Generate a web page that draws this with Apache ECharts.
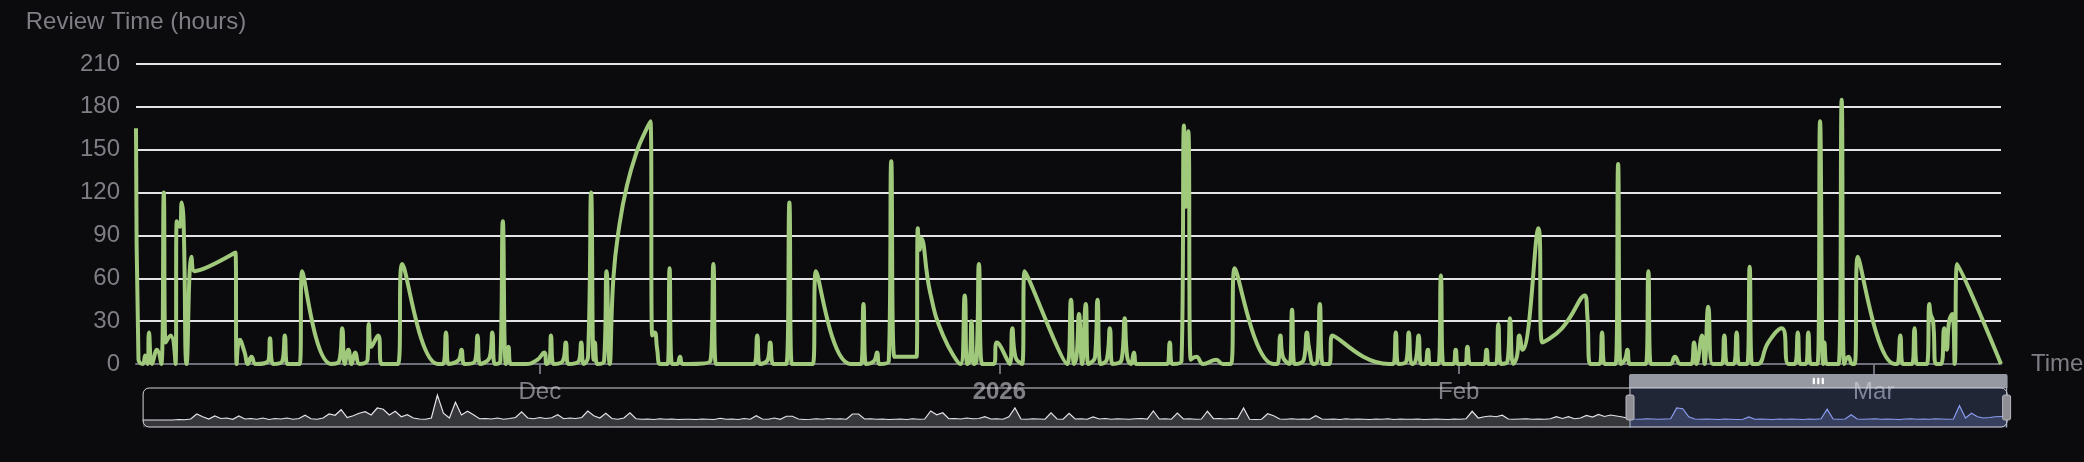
<!DOCTYPE html>
<html>
<head>
<meta charset="utf-8">
<script src="https://cdn.jsdelivr.net/npm/echarts@6/dist/echarts.min.js"></script>
<style>
html,body{margin:0;padding:0;background:#0b0b0e;}
#chart{width:2084px;height:462px;}
</style>
</head>
<body>
<div id="chart"></div>
<script>
// ---------- DATA ----------
const novTimes = ['2025-11-03 18:00','2025-11-03 22:00','2025-11-04 05:00','2025-11-04 09:00','2025-11-04 13:00','2025-11-04 15:00','2025-11-04 20:00','2025-11-05 04:00','2025-11-05 11:00','2025-11-05 15:00',
'2025-11-05 18:00','2025-11-06 02:00','2025-11-06 10:00','2025-11-06 12:00','2025-11-06 17:00','2025-11-06 20:00','2025-11-06 23:00','2025-11-07 04:00','2025-11-07 12:00','2025-11-07 17:00',
'2025-11-10 11:00','2025-11-10 13:00','2025-11-10 18:00','2025-11-11 02:00','2025-11-11 07:00','2025-11-11 13:00','2025-11-11 20:00','2025-11-12 17:00','2025-11-12 19:00','2025-11-13 00:00',
'2025-11-13 15:00','2025-11-13 19:00','2025-11-13 23:00','2025-11-14 19:00','2025-11-14 23:00','2025-11-16 22:00','2025-11-17 11:00','2025-11-17 16:00','2025-11-17 20:00','2025-11-18 02:00',
'2025-11-18 07:00','2025-11-18 13:00','2025-11-18 20:00','2025-11-19 09:00','2025-11-19 11:00','2025-11-19 15:00','2025-11-20 02:00','2025-11-20 08:00','2025-11-21 10:00','2025-11-21 17:00',
'2025-11-24 03:00','2025-11-24 11:00','2025-11-24 16:00','2025-11-24 20:00','2025-11-25 13:00','2025-11-25 17:00','2025-11-25 22:00','2025-11-26 15:00','2025-11-26 19:00','2025-11-26 23:00',
'2025-11-27 15:00','2025-11-27 19:00','2025-11-27 23:00','2025-11-28 08:00','2025-11-28 12:00','2025-11-28 17:00','2025-11-28 21:00','2025-11-29 01:00','2025-11-30 01:00','2025-11-30 20:00'];
const novHours = [165,3,0,6,0,22,0,10,0,120,
15,20,0,100,96,113,100,0,75,65,
78,0,17,8,0,5,0,3,18,0,
2,20,0,0,65,0,2,25,0,10,
0,8,0,3,28,12,20,0,0,70,
0,0,22,0,3,10,0,2,20,0,
5,22,0,2,100,0,12,0,0,3];

const decTimes = ['2025-12-01 07:00','2025-12-01 11:00','2025-12-01 16:00','2025-12-01 18:00','2025-12-01 22:00','2025-12-02 13:00','2025-12-02 18:00','2025-12-02 22:00','2025-12-03 15:00','2025-12-03 19:00',
'2025-12-03 23:00','2025-12-04 06:00','2025-12-04 11:00','2025-12-04 15:00','2025-12-04 17:00','2025-12-04 21:00','2025-12-05 08:00','2025-12-05 12:00','2025-12-05 17:00',
'2025-12-05 23:00','2025-12-06 08:00','2025-12-06 21:00','2025-12-07 14:00','2025-12-08 03:00','2025-12-08 11:00',
'2025-12-08 14:00','2025-12-08 18:00','2025-12-08 22:00','2025-12-09 03:00','2025-12-09 15:00','2025-12-09 18:00','2025-12-09 22:00','2025-12-10 06:00','2025-12-10 11:00','2025-12-10 15:00',
'2025-12-12 12:00','2025-12-12 17:00','2025-12-12 21:00','2025-12-15 11:00','2025-12-15 16:00','2025-12-15 20:00','2025-12-16 09:00','2025-12-16 13:00','2025-12-16 18:00','2025-12-17 15:00',
'2025-12-17 20:00','2025-12-18 00:00','2025-12-19 10:00','2025-12-19 15:00','2025-12-21 23:00','2025-12-22 16:00','2025-12-22 20:00','2025-12-23 00:00','2025-12-23 13:00','2025-12-23 18:00',
'2025-12-23 22:00','2025-12-24 13:00','2025-12-24 17:00','2025-12-24 22:00','2025-12-26 10:00','2025-12-26 12:00','2025-12-26 15:00','2025-12-26 17:00',
'2025-12-27 08:00','2025-12-28 05:00','2025-12-29 09:00','2025-12-29 16:00',
'2025-12-29 20:00','2025-12-30 00:00','2025-12-30 03:00','2025-12-30 07:00','2025-12-30 11:00','2025-12-30 15:00','2025-12-30 20:00','2025-12-31 15:00','2025-12-31 20:00'];
const decHours = [8,0,3,20,0,2,15,0,2,15,
0,5,120,3,15,0,2,65,0,
60,95,125,150,163,170,
20,22,10,0,0,67,0,0,5,0,
2,70,0,0,20,0,3,15,0,0,
113,0,0,65,0,0,42,0,2,8,
0,2,142,5,5,95,80,88,
50,20,0,48,
0,2,30,0,2,70,0,0,15];

const janTimes = ['2026-01-01 17:00','2026-01-01 21:00','2026-01-02 02:00','2026-01-02 13:00','2026-01-02 17:00','2026-01-05 14:00','2026-01-05 20:00','2026-01-06 01:00','2026-01-06 05:00','2026-01-06 09:00',
'2026-01-06 14:00','2026-01-06 20:00','2026-01-07 00:00','2026-01-07 11:00','2026-01-07 15:00','2026-01-07 20:00','2026-01-08 06:00','2026-01-08 11:00','2026-01-08 15:00','2026-01-09 06:00',
'2026-01-09 11:00','2026-01-09 15:00','2026-01-09 21:00','2026-01-10 02:00','2026-01-10 06:00','2026-01-12 08:00','2026-01-12 12:00','2026-01-12 16:00','2026-01-13 07:00','2026-01-13 11:00',
'2026-01-13 14:00','2026-01-13 18:00','2026-01-13 22:00','2026-01-14 07:00','2026-01-14 18:00','2026-01-15 15:00','2026-01-16 02:00','2026-01-16 15:00','2026-01-16 21:00','2026-01-19 12:00',
'2026-01-19 18:00','2026-01-19 23:00','2026-01-20 03:00','2026-01-20 14:00','2026-01-20 18:00','2026-01-20 22:00','2026-01-21 13:00','2026-01-21 18:00','2026-01-21 22:00','2026-01-22 05:00',
'2026-01-22 11:00','2026-01-22 15:00','2026-01-22 20:00','2026-01-23 06:00','2026-01-23 11:00','2026-01-27 07:00','2026-01-27 14:00','2026-01-27 18:00','2026-01-27 22:00','2026-01-28 11:00',
'2026-01-28 15:00','2026-01-28 20:00','2026-01-29 02:00','2026-01-29 07:00','2026-01-29 11:00','2026-01-29 17:00','2026-01-29 22:00','2026-01-30 02:00','2026-01-30 15:00','2026-01-30 19:00',
'2026-01-30 23:00','2026-01-31 15:00','2026-01-31 19:00','2026-01-31 23:00'];
const janHours = [0,25,5,0,65,0,45,0,5,35,
0,42,0,5,45,0,3,25,0,3,
32,5,0,8,0,0,15,0,2,167,
110,163,3,5,0,3,0,0,67,0,
0,20,5,0,38,0,3,22,10,0,
2,42,0,0,20,0,0,22,0,2,
22,0,2,20,0,0,10,0,0,62,
0,0,10,0];

const febTimes = ['2026-02-01 10:00','2026-02-01 14:00','2026-02-01 19:00','2026-02-02 16:00','2026-02-02 21:00','2026-02-03 01:00','2026-02-03 12:00','2026-02-03 16:00','2026-02-03 20:00','2026-02-04 07:00',
'2026-02-04 11:00','2026-02-04 16:00','2026-02-04 22:00','2026-02-05 02:00','2026-02-05 07:00','2026-02-06 09:00','2026-02-06 15:00','2026-02-07 23:00','2026-02-09 12:00','2026-02-09 16:00',
'2026-02-09 21:00','2026-02-10 12:00','2026-02-10 16:00','2026-02-10 20:00','2026-02-11 14:00','2026-02-11 18:00','2026-02-11 22:00','2026-02-12 05:00','2026-02-12 09:00','2026-02-12 13:00',
'2026-02-13 15:00','2026-02-13 19:00','2026-02-13 23:00','2026-02-15 06:00','2026-02-15 14:00','2026-02-15 23:00','2026-02-16 16:00','2026-02-16 21:00','2026-02-17 01:00','2026-02-17 10:00',
'2026-02-17 14:00','2026-02-17 20:00','2026-02-18 03:00','2026-02-18 18:00','2026-02-18 22:00','2026-02-19 03:00','2026-02-19 13:00','2026-02-19 18:00','2026-02-19 22:00','2026-02-20 11:00',
'2026-02-20 15:00','2026-02-20 19:00','2026-02-21 04:00','2026-02-21 21:00','2026-02-22 19:00','2026-02-23 06:00','2026-02-23 16:00','2026-02-23 21:00','2026-02-24 01:00','2026-02-24 10:00',
'2026-02-24 14:00','2026-02-24 18:00','2026-02-25 05:00','2026-02-25 09:00','2026-02-25 14:00','2026-02-25 16:00','2026-02-25 20:00','2026-02-26 15:00','2026-02-26 20:00','2026-02-27 00:00',
'2026-02-27 07:00','2026-02-27 13:00','2026-02-27 17:00','2026-02-27 22:00'];
const febHours = [0,12,0,0,10,0,0,28,0,2,
32,0,5,20,10,95,15,25,48,35,
0,0,22,0,0,140,0,3,10,0,
0,65,0,0,5,0,0,15,0,20,
0,40,0,0,20,0,0,22,0,0,
68,0,0,15,25,0,0,22,0,0,
22,0,0,170,0,15,0,0,185,0,
5,0,0,75];

const marTimes = ['2026-03-02 10:00','2026-03-02 14:00','2026-03-02 19:00','2026-03-02 23:00','2026-03-03 14:00','2026-03-03 18:00','2026-03-03 22:00','2026-03-04 14:00','2026-03-04 18:00','2026-03-04 20:00',
'2026-03-05 00:00','2026-03-05 05:00','2026-03-05 13:00','2026-03-05 18:00','2026-03-05 22:00','2026-03-06 02:00','2026-03-06 07:00','2026-03-06 11:00','2026-03-06 15:00','2026-03-09 14:00'];
const marHours = [0,0,20,0,0,25,0,0,42,35,
30,0,0,25,10,30,35,0,70,0];

// overview series shown in the slider (evenly spaced samples)
const overviewValues = [
0,0,0,0,0,0,2,1,4,24, 13,4,16,6,8,3,16,4,6,3, 8,2,6,4,8,3,6,19,5,3, 8,24,19,41,10,17,27,33,20,48,
43,20,35,13,21,8,4,3,8,100, 27,8,71,20,35,21,5,6,4,8, 3,6,10,33,8,5,10,6,9,21, 5,8,6,10,36,17,8,27,6,3,
8,29,5,3,4,2,5,3,4,2, 3,3,2,4,3,2,7,3,4,2, 6,3,17,4,3,8,3,15,15,4, 2,3,5,3,6,4,5,3,24,24,
4,5,3,4,2,3,4,2,5,3, 4,36,21,29,5,6,4,8,5,6, 13,4,5,3,13,48,4,3,5,4, 3,29,4,3,27,4,5,3,12,4,
6,3,5,4,3,5,6,4,36,4, 5,3,28,4,5,3,4,35,5,6, 4,6,5,48,3,2,3,25,17,4, 3,5,3,4,3,17,4,3,4,2,
5,3,4,3,2,4,3,5,2,4, 3,3,4,2,3,4,3,2,4,3, 5,35,8,13,16,13,19,4,3,4, 5,3,4,3,5,13,6,13,5,8,
18,12,22,14,20,16,12,6,4,3, 5,4,3,4,5,48,45,13,4,3, 4,3,2,4,3,2,3,12,3,4, 3,2,4,3,4,3,2,4,3,5,
43,4,3,4,21,4,3,4,5,3, 4,3,2,4,5,3,4,3,5,4, 3,4,57,8,27,13,8,10,13,14,15];

const yMin = 0, yMax = 210, yStep = 30;
const zoomStart = 79.7, zoomEnd = 100;

// ---------- BUILD ----------
const allTimes = novTimes.concat(decTimes, janTimes, febTimes, marTimes);
const allHours = novHours.concat(decHours, janHours, febHours, marHours);
const mainData = allTimes.map((t, i) => [t, allHours[i]]);
const overviewData = overviewValues.map((v, i) => [i, v]);

const FONT = '"Liberation Sans", Arial, Helvetica, sans-serif';
const TXT = '#7e7e85';

const chart = echarts.init(document.getElementById('chart'), null, {renderer: 'canvas'});
chart.setOption({
  backgroundColor: '#0b0b0e',
  animation: false,
  textStyle: {fontFamily: FONT},
  grid: {left: 136, right: 83, top: 64, bottom: 98, containLabel: false, outerBoundsMode: 'none'},
  xAxis: [{
    type: 'time', gridIndex: 0, min: 'dataMin', max: 'dataMax',
    name: 'Time', nameLocation: 'end', nameGap: 30,
    nameTextStyle: {color: TXT, fontSize: 24, fontFamily: FONT},
    axisLine: {lineStyle: {color: '#6e7079', width: 2}},
    axisTick: {length: 10, lineStyle: {color: '#6e7079', width: 2}},
    axisLabel: {color: TXT, fontSize: 24, margin: 16, fontFamily: FONT},
    splitLine: {show: false}
  }, {
    type: 'value', gridIndex: 0, show: false, min: 0, max: overviewValues.length - 1
  }],
  yAxis: [{
    type: 'value', gridIndex: 0, min: yMin, max: yMax, interval: yStep,
    name: 'Review Time (hours)', nameLocation: 'end', nameGap: 30,
    nameTextStyle: {color: TXT, fontSize: 24, fontFamily: FONT},
    axisLine: {show: false}, axisTick: {show: false},
    axisLabel: {color: TXT, fontSize: 24, margin: 16, fontFamily: FONT},
    splitLine: {lineStyle: {color: '#e4e4e6', width: 2}}
  }, {
    type: 'value', gridIndex: 0, show: false
  }],
  dataZoom: [{
    type: 'slider', xAxisIndex: 1, start: zoomStart, end: zoomEnd,
    left: 137, right: 82, top: 374, height: 40,
    showDetail: false, brushSelect: true,
    borderColor: '#d6d6da', borderRadius: 6,
    backgroundColor: 'rgba(0,0,0,0)',
    fillerColor: 'rgba(135,160,240,0.18)',
    dataBackground: {lineStyle: {color: '#e2e2e8', width: 1.2, opacity: 1}, areaStyle: {color: '#d2d6e0', opacity: 0.22}},
    selectedDataBackground: {lineStyle: {color: '#8b9cf0', width: 1.2}, areaStyle: {color: '#8b9cf0', opacity: 0.22}},
    handleStyle: {color: '#8e8e94', borderColor: '#b8b8c0', borderWidth: 1},
    moveHandleSize: 14,
    moveHandleStyle: {color: '#d2d6e0', opacity: 0.7}
  }],
  series: [{
    type: 'line', xAxisIndex: 0, yAxisIndex: 0,
    data: mainData, smooth: true, showSymbol: false, symbol: 'none',
    lineStyle: {color: '#a0c97c', width: 4},
    itemStyle: {color: '#a0c97c'}
  }, {
    type: 'line', xAxisIndex: 1, yAxisIndex: 1,
    data: overviewData, showSymbol: false, symbol: 'none', silent: true,
    lineStyle: {opacity: 0}, itemStyle: {opacity: 0}
  }]
});
</script>
</body>
</html>
